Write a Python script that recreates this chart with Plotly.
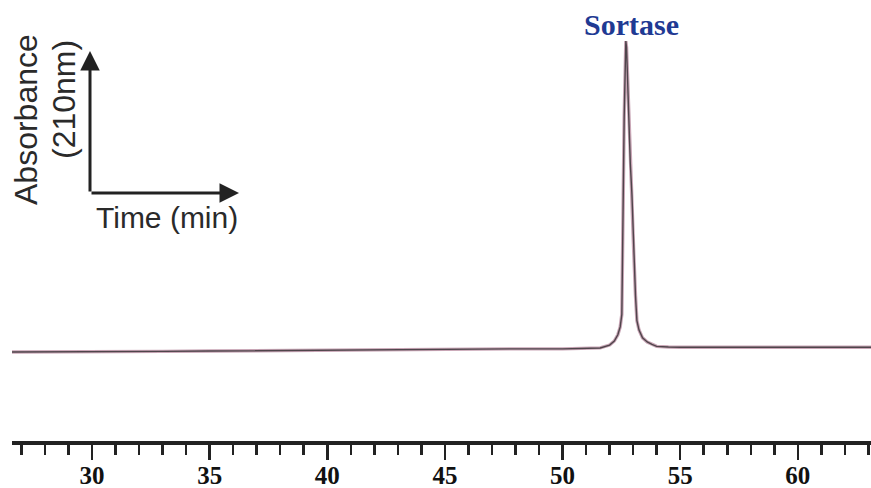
import plotly.graph_objects as go

# Chromatogram trace (time in min, absorbance in arbitrary units)
time_min = [26.6, 30.0, 33.0, 35.0, 38.0, 40.0, 43.0, 45.0, 48.0, 50.0, 51.0, 51.6, 52.0,
            52.2, 52.35, 52.45, 52.52, 52.55, 52.58, 52.62, 52.66, 52.69, 52.72, 52.76,
            52.82, 52.88, 52.95, 53.02, 53.1, 53.16, 53.25, 53.4, 53.6, 53.8, 54.0,
            54.5, 55.0, 57.0, 60.0, 63.2]
absorbance = [0.0, 0.0, 0.002, 0.003, 0.005, 0.006, 0.008, 0.009, 0.010, 0.010, 0.011, 0.013, 0.022,
              0.035, 0.055, 0.08, 0.12, 0.25, 0.5, 0.75, 0.92, 0.99, 0.97, 0.88,
              0.72, 0.6, 0.5, 0.33, 0.18, 0.1, 0.07, 0.045, 0.032, 0.024, 0.018,
              0.016, 0.015, 0.015, 0.015, 0.015]

peak_label = "Sortase"
x_tick_values = [30, 35, 40, 45, 50, 55, 60]
x_tick_labels = ["30", "35", "40", "45", "50", "55", "60"]

fig = go.Figure()
fig.add_trace(go.Scatter(x=time_min, y=absorbance, mode="lines",
                         line=dict(color="#c9a6b6", width=3.4), hoverinfo="skip", showlegend=False))
fig.add_trace(go.Scatter(x=time_min, y=absorbance, mode="lines",
                         line=dict(color="#3a3438", width=1.4), opacity=0.85, showlegend=False))

W, H = 871, 488
ml, mr, mt, mb = 12, 0, 0, 47
pw, ph = W - ml - mr, H - mt - mb

def px(x):
    return (x - ml) / pw

def py(y):
    return (H - mb - y) / ph

annotations = [
    # legend arrows
    dict(x=px(90), y=py(51), xref="paper", yref="paper", ax=0, ay=142, text="",
         showarrow=True, arrowhead=2, arrowsize=1.3, arrowwidth=3, arrowcolor="#222222"),
    dict(x=px(239), y=py(193), xref="paper", yref="paper", ax=-149, ay=0, text="",
         showarrow=True, arrowhead=2, arrowsize=1.3, arrowwidth=3, arrowcolor="#222222"),
    dict(x=px(26), y=py(120), xref="paper", yref="paper", text="Absorbance", textangle=-90,
         showarrow=False, font=dict(family="Liberation Sans, Arial", size=32, color="#2a2a2a"),
         xanchor="center", yanchor="middle"),
    dict(x=px(64), y=py(100), xref="paper", yref="paper", text="(210nm)", textangle=-90,
         showarrow=False, font=dict(family="Liberation Sans, Arial", size=32, color="#2a2a2a"),
         xanchor="center", yanchor="middle"),
    dict(x=px(167), y=py(218), xref="paper", yref="paper", text="Time (min)",
         showarrow=False, font=dict(family="Liberation Sans, Arial", size=30, color="#2a2a2a"),
         xanchor="center", yanchor="middle"),
    dict(x=px(631), y=py(25), xref="paper", yref="paper", text="<b>" + peak_label + "</b>",
         showarrow=False, font=dict(family="Liberation Serif, Times New Roman", size=30, color="#1f3a93"),
         xanchor="center", yanchor="middle"),
]

fig.update_layout(
    width=W, height=H,
    margin=dict(l=ml, r=mr, t=mt, b=mb, pad=0),
    paper_bgcolor="white", plot_bgcolor="white",
    annotations=annotations,
    xaxis=dict(range=[26.6, 63.11], showgrid=False, zeroline=False,
               showline=True, linecolor="#222222", linewidth=3.5,
               ticks="outside", ticklen=15, tickwidth=2.5, tickcolor="#222222",
               tickvals=x_tick_values, ticktext=x_tick_labels, ticklabelstandoff=-6,
               tickfont=dict(family="Liberation Serif, Times New Roman", size=25, color="#111111", weight="bold"),
               minor=dict(dtick=1, tick0=0, ticks="outside", ticklen=10, tickwidth=2.5, tickcolor="#222222", showgrid=False),
               automargin=False, fixedrange=True),
    yaxis=dict(range=[-0.2834, 1.121], visible=False, showgrid=False, zeroline=False, automargin=False,
               fixedrange=True),
)

fig.write_html("out.html", config={"displayModeBar": False, "staticPlot": True},
               post_script="document.body.style.margin='0';document.body.style.padding='0';document.body.style.overflow='hidden';")
